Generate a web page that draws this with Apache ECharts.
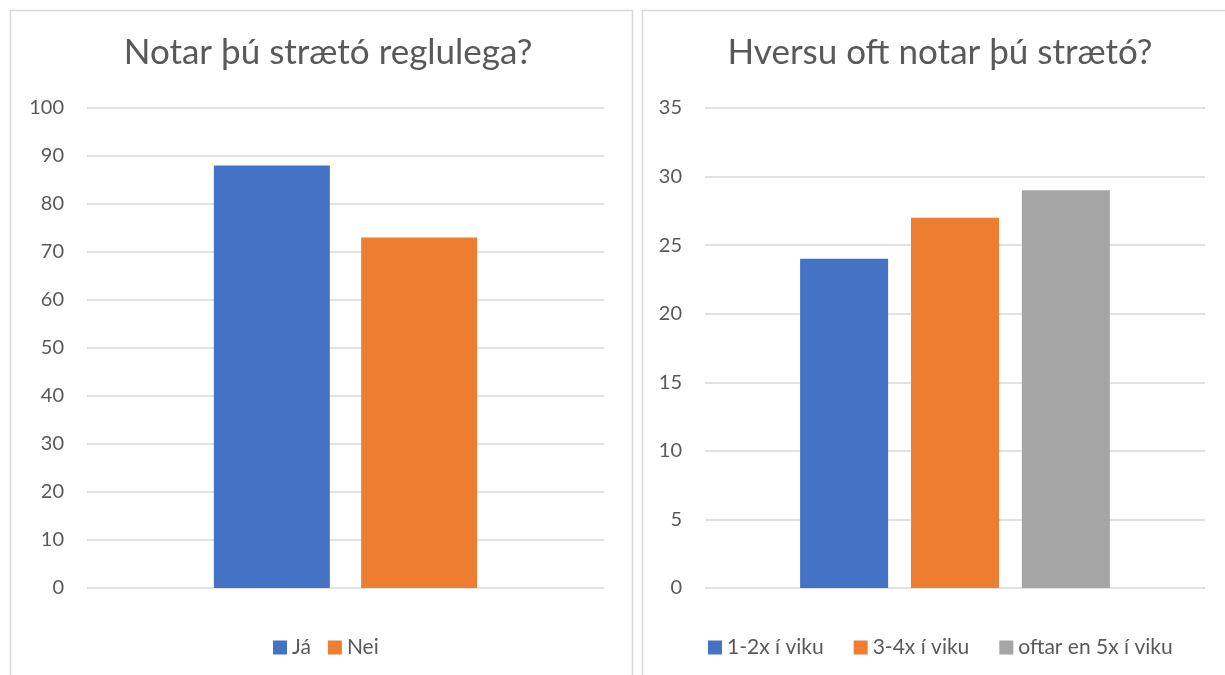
<!DOCTYPE html>
<html>
<head>
<meta charset="utf-8">
<script src="https://cdn.jsdelivr.net/npm/echarts@6/dist/echarts.min.js"></script>
<style>
  html, body { margin: 0; padding: 0; background: #fff; }
  #chart { width: 1225px; height: 675px; }
</style>
</head>
<body>
<div id="chart"></div>
<script>
// left panel: "Notar þú strætó reglulega?"
const leftTitle = 'Notar þú strætó reglulega?'
const leftNames = ['Já', 'Nei']
const leftValues = [88, 73]

// right panel: "Hversu oft notar þú strætó?"
const rightTitle = 'Hversu oft notar þú strætó?'
const rightNames = ['1-2x í viku', '3-4x í viku', 'oftar en 5x í viku']
const rightValues = [24, 27, 29]

const colors = ['#4472C4', '#ED7D31', '#A5A5A5']
const textColor = '#595959'
const gridColor = '#d9d9d9'
const font = 'Lato, "Open Sans", sans-serif'

const chart = echarts.init(document.getElementById('chart'), null, { renderer: 'canvas' })

function yAxis(idx, max, interval) {
  return {
    type: 'value',
    gridIndex: idx,
    min: 0,
    max: max,
    interval: interval,
    axisLine: { show: false },
    axisTick: { show: false },
    axisLabel: { color: textColor, fontSize: 20, fontFamily: font, margin: 23 },
    splitLine: { lineStyle: { color: gridColor, width: 1.5 } },
  }
}

function xAxis(idx) {
  return {
    type: 'category',
    gridIndex: idx,
    data: [''],
    axisLine: { show: false },
    axisTick: { show: false },
    axisLabel: { show: false },
  }
}

const series = []
leftNames.forEach((name, i) => {
  series.push({
    type: 'bar', name, xAxisIndex: 0, yAxisIndex: 0,
    data: [leftValues[i]],
    barWidth: 116, barGap: '27%',
    itemStyle: { color: colors[i] },
  })
})
rightNames.forEach((name, i) => {
  series.push({
    type: 'bar', name, xAxisIndex: 1, yAxisIndex: 1,
    data: [rightValues[i]],
    barWidth: 88, barGap: '26%',
    itemStyle: { color: colors[i] },
  })
})

const legendBase = {
  icon: 'rect',
  itemWidth: 14,
  itemHeight: 14,
  top: 632,
  textStyle: { color: textColor, fontSize: 21, fontFamily: font },
}

const titleStyle = { color: textColor, fontSize: 35, fontWeight: 'normal', fontFamily: font }

chart.setOption({
  animation: false,
  title: [
    { text: leftTitle, left: 323, top: 30, textAlign: 'center', textStyle: titleStyle },
    { text: rightTitle, left: 935, top: 30, textAlign: 'center', textStyle: titleStyle },
  ],
  grid: [
    { left: 87, right: 621, top: 108, bottom: 87 },
    { left: 705, right: 20, top: 108, bottom: 87 },
  ],
  xAxis: [xAxis(0), xAxis(1)],
  yAxis: [yAxis(0, 100, 10), yAxis(1, 35, 5)],
  legend: [
    Object.assign({}, legendBase, { data: leftNames, left: 268, itemGap: 17 }),
    Object.assign({}, legendBase, { data: rightNames, left: 703, itemGap: 30 }),
  ],
  graphic: [
    { type: 'rect', shape: { x: 10.5, y: 10.5, width: 622, height: 680 },
      style: { fill: 'none', stroke: gridColor, lineWidth: 1.5 }, silent: true },
    { type: 'rect', shape: { x: 642.5, y: 10.5, width: 620, height: 680 },
      style: { fill: 'none', stroke: gridColor, lineWidth: 1.5 }, silent: true },
  ],
  series,
})
</script>
</body>
</html>
